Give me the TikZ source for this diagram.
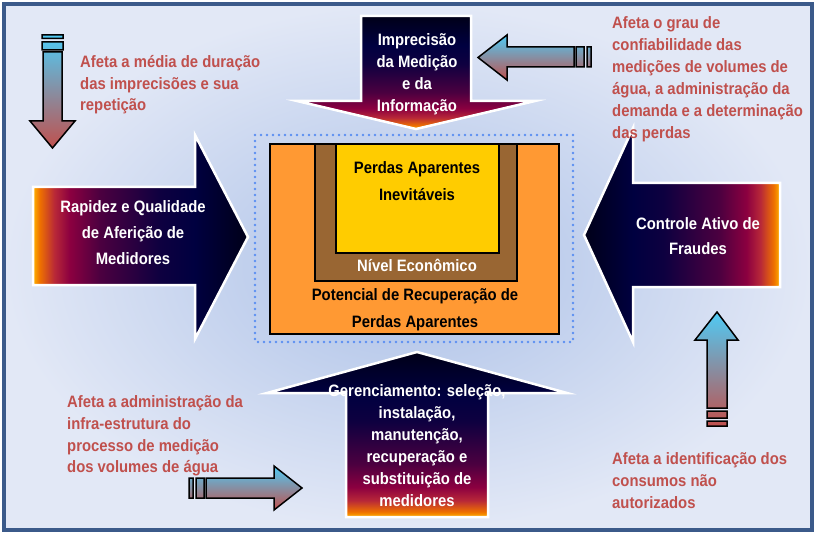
\documentclass[tikz,border=0pt]{standalone}
\usepackage{fontspec}
\setmainfont{Liberation Sans}[FakeStretch=0.9]
\definecolor{fy}{HTML}{FFB300}
\definecolor{fo}{HTML}{EE7000}
\definecolor{fr}{HTML}{B82838}
\definecolor{fc}{HTML}{8C0040}
\definecolor{fp}{HTML}{4C0040}
\definecolor{fn}{HTML}{0E0040}
\definecolor{fd}{HTML}{000040}
\definecolor{fk}{HTML}{000018}
\definecolor{txtred}{HTML}{C0504D}
\definecolor{acyan}{HTML}{4FCBF5}
\definecolor{ared}{HTML}{C0504D}
\definecolor{bgin}{HTML}{ABC0E7}
\definecolor{bgout}{HTML}{E2E8F6}
\definecolor{framec}{HTML}{3B5A8A}
\definecolor{dotc}{HTML}{5B8FF2}
\definecolor{orangec}{HTML}{FF9933}
\definecolor{brownc}{HTML}{996633}
\definecolor{yellowc}{HTML}{FFCC00}
\pgfdeclareverticalshading{fireV}{100bp}{color(0bp)=(fy); color(25bp)=(fy); color(26.6bp)=(fo); color(30bp)=(fr); color(34bp)=(fc); color(41bp)=(fp); color(54bp)=(fn); color(62bp)=(fd); color(75bp)=(fk); color(100bp)=(fk)}
\pgfdeclarehorizontalshading{fireH}{100bp}{color(0bp)=(fy); color(25bp)=(fy); color(26.6bp)=(fo); color(30bp)=(fr); color(33.5bp)=(fc); color(40.5bp)=(fp); color(54.5bp)=(fn); color(62.5bp)=(fd); color(75bp)=(fk); color(100bp)=(fk)}
\begin{document}
\begin{tikzpicture}[x=1pt,y=-1pt,
  lbl/.style={font=\fontsize{16.5}{22}\selectfont\bfseries, inner sep=0pt},
  redtxt/.style={lbl, text=txtred, align=left, anchor=west},
  wtxt/.style={lbl, text=white, align=center},
  btxt/.style={lbl, text=black, align=center},
  bigarrow/.style={draw=white, line width=2.5pt},
  smallarrow/.style={draw=black, line width=1.5pt, top color=acyan, bottom color=ared},
  boxc/.style={draw=black, line width=1.5pt},
  framebox/.style={draw=framec, line width=4pt},
  dotbox/.style={draw=dotc, line width=2.8pt, dash pattern=on 0pt off 6pt, line cap=round}]
\useasboundingbox (0,0) rectangle (821,537);
\fill[white] (0,0) rectangle (821,537);
% background
\shade[inner color=bgin, outer color=bgout] (4,4) rectangle (811.5,530);
\draw[framebox] (4,4) rectangle (811.5,530);
% central boxes
\draw[dotbox] (255,135) rectangle (573,342);
\draw[boxc, fill=orangec] (270,144) rectangle (559,334);
\draw[boxc, fill=brownc] (315,144) rectangle (517,281);
\draw[boxc, fill=yellowc] (336,144) rectangle (499,253);
% big arrows
\shadedraw[bigarrow, shading=fireV] (361,16) -- (471,16) -- (471,101) -- (535,101) -- (416,129) -- (297,101) -- (361,101) -- cycle;
\shadedraw[bigarrow, shading=fireV] (417,352) -- (567,393) -- (488,393) -- (488,517) -- (346,517) -- (346,393) -- (267,393) -- cycle;
\shadedraw[bigarrow, shading=fireH] (33,187) -- (195,187) -- (195,135) -- (248,237) -- (195,339) -- (195,285) -- (33,285) -- cycle;
\shadedraw[bigarrow, shading=fireH, shading angle=180] (780,183) -- (633,183) -- (633,128) -- (584,235) -- (633,342) -- (633,287) -- (780,287) -- cycle;
% small arrows
\shadedraw[smallarrow] (43,52) -- (62,52) -- (62,121) -- (75,121) -- (52.5,148) -- (30,121) -- (43,121) -- cycle
  (42,35) rectangle (63,38.5) (42,42) rectangle (63,50);
\shadedraw[smallarrow] (478,57.5) -- (507,35) -- (507,47) -- (574,47) -- (574,67) -- (507,67) -- (507,80) -- cycle
  (576,47) rectangle (584,67) (587,47) rectangle (591,67);
\shadedraw[smallarrow] (302,488) -- (274,466) -- (274,478) -- (206,478) -- (206,498) -- (274,498) -- (274,510) -- cycle
  (189,478) rectangle (193,498) (196,478) rectangle (204,498);
\shadedraw[smallarrow] (717,312) -- (738,340) -- (727,340) -- (727,408) -- (707,408) -- (707,340) -- (695,340) -- cycle
  (707,411) rectangle (727,418) (707,421) rectangle (727,426);
% box texts
\node[btxt, font=\fontsize{16.5}{27}\selectfont\bfseries] (inev) at (417,181) {Perdas Aparentes\\Inevitáveis};
\node[lbl, text=white] (econ) at (417,265) {Nível Econômico};
\node[btxt, font=\fontsize{16.5}{27}\selectfont\bfseries] (pot) at (415,310) {Potencial de Recuperação de\\Perdas Aparentes};
% arrow texts
\node[wtxt] (impr) at (417,74.5) {Imprecisão\\da Medição\\e da\\Informação};
\node[wtxt, font=\fontsize{16.5}{26}\selectfont\bfseries] (rap) at (133,232.5) {Rapidez e Qualidade\\de Aferição de\\Medidores};
\node[wtxt, font=\fontsize{16.5}{25}\selectfont\bfseries] (ctrl) at (698,236) {Controle Ativo de\\Fraudes};
\node[wtxt] (ger) at (417,445.5) {Gerenciamento: seleção,\\instalação,\\manutenção,\\recuperação e\\substituição de\\medidores};
% red texts
\node[redtxt, font=\fontsize{16.5}{21.5}\selectfont\bfseries] (tA) at (80,85) {Afeta a média de duração\\das imprecisões e sua\\repetição};
\node[redtxt] (tB) at (612,79.5) {Afeta o grau de\\confiabilidade das\\medições de volumes de\\água, a administração da\\demanda e a determinação\\das perdas};
\node[redtxt, font=\fontsize{16.5}{21.7}\selectfont\bfseries] (tC) at (67,436) {Afeta a administração da\\infra-estrutura do\\processo de medição\\dos volumes de água};
\node[redtxt] (tD) at (612,480.5) {Afeta a identificação dos\\consumos não\\autorizados};
\end{tikzpicture}
\end{document}
